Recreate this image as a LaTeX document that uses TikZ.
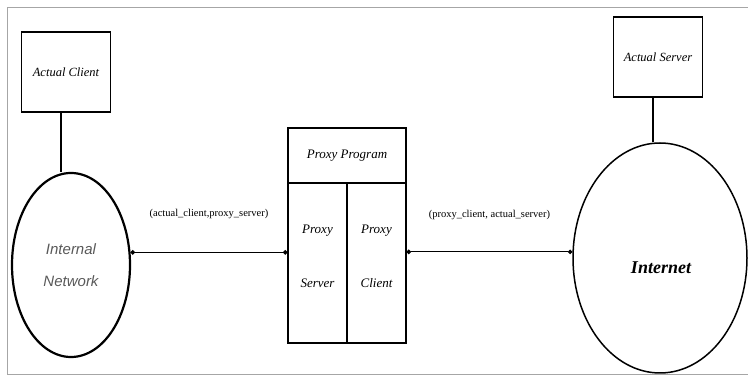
\documentclass[tikz,border=0pt]{standalone}
\usepackage{fontspec}
\setmainfont{Liberation Serif}
\newfontfamily\netfont{Liberation Sans}
\usetikzlibrary{arrows.meta,positioning,shapes.geometric}

\begin{document}
\begin{tikzpicture}[x=1pt, y=-1pt,
    hostbox/.style={draw, line width=1.3pt, minimum width=89pt, minimum height=80pt, font=\itshape\fontsize{12.5}{14}\selectfont},
    cloud/.style={draw, ellipse, line width=1.8pt, inner sep=0pt},
    cell/.style={draw, line width=1.1pt, inner sep=0pt},
    celltext/.style={font=\itshape\fontsize{13}{15}\selectfont},
    link/.style={line width=1pt, {Circle[length=4.5pt]}-{Circle[length=4.5pt]}},
    lbl/.style={font=\fontsize{10.5}{11}\selectfont}]
    \useasboundingbox (0,0) rectangle (748,379);
    % frame
    \draw[gray!70, line width=1pt] (748,8) -- (7,8) -- (7,375) -- (748,375);

    % hosts and networks
    \node[hostbox] (actclient) at (66,72) {Actual Client};
    \node[hostbox] (actserver) at (658,57) {Actual Server};
    \node[cloud, minimum width=118pt, minimum height=184pt, line width=2.2pt,
          font=\netfont\itshape\fontsize{15}{32}\selectfont, text=black!65, align=center] (intnet) at (71,265) {Internal\\Network};
    \node[cloud, minimum width=174pt, minimum height=230pt, line width=1.5pt] (inet) at (660,258) {};
    \node[font=\bfseries\itshape\fontsize{18}{20}\selectfont] (inettxt) at (661,268) {Internet};

    \draw[line width=1.3pt] ([xshift=-5pt]actclient.south) -- ([xshift=-5pt]actclient.south |- intnet.north);
    \draw[line width=1.3pt] ([xshift=-5pt]actserver.south) -- ([xshift=-5pt]actserver.south |- inet.north);

    % proxy program
    \node[cell, minimum width=118pt, minimum height=55pt, celltext] (prog) at (347,155.5) {Proxy Program};
    \node[cell, minimum width=59pt, minimum height=160pt] (psrv) at (317.5,263) {};
    \node[cell, minimum width=59pt, minimum height=160pt] (pcli) at (376.5,263) {};
    \node[celltext, align=center, font=\itshape\fontsize{13}{54}\selectfont] (psrvtxt) at (317.5,256) {Proxy\\Server};
    \node[celltext, align=center, font=\itshape\fontsize{13}{54}\selectfont] (pclitxt) at (376.5,256) {Proxy\\Client};

    % connections
    \draw[link] (intnet.12.5) -- node[lbl, above=30pt] {(actual\_client,proxy\_server)} (intnet.12.5 -| psrv.west);
    \draw[link] (inet.176 -| pcli.east) -- node[lbl, above=28pt] {(proxy\_client, actual\_server)} (inet.176);
\end{tikzpicture}
\end{document}
